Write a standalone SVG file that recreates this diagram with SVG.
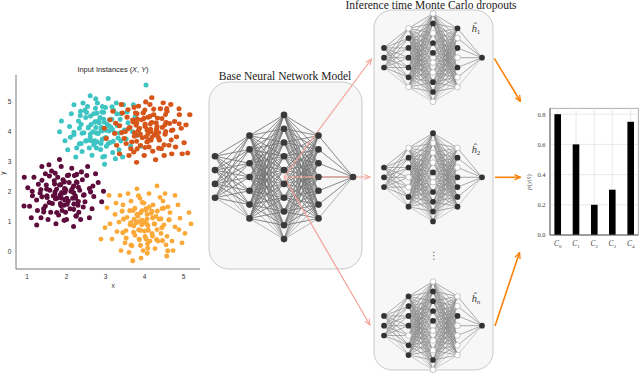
<svg xmlns="http://www.w3.org/2000/svg" width="640" height="373" viewBox="0 0 640 373">
<style>
.sans{font-family:"Liberation Sans",Arial,sans-serif}
.serif{font-family:"Liberation Serif","Times New Roman",serif}
.it{font-style:italic}
.ax{stroke:#555;stroke-width:.8;fill:none}
.tk{font-size:6.5px;fill:#333}
.dots{fill:none;stroke-linecap:round}
.e{fill:none;stroke-linejoin:round}
.bn{fill:#3a3a3a}
.d{fill:#333}
.w{fill:#fff;stroke:#a0a0a0;stroke-width:.6}
.panel{fill:#f7f7f7;stroke:#c9c9c9;stroke-width:1}
.ttl{font-size:11.5px;fill:#222}
.red{stroke:#f4a196;stroke-width:1.2;fill:none}
.org{stroke:#fa820a;stroke-width:1.6;fill:none}
.grid{stroke:#e4e4e4;stroke-width:.8}
.bl{font-size:6.5px;fill:#444}
.hl{font-size:10.5px;fill:#333}
</style>
<defs>
<marker id="ahR" viewBox="0 0 10 10" refX="9" refY="5" markerWidth="7.5" markerHeight="7.5" orient="auto" markerUnits="userSpaceOnUse"><path d="M1 1.5L9 5L1 8.5" fill="none" stroke="#f4a196" stroke-width="1.4"/></marker>
<marker id="ahO" viewBox="0 0 10 10" refX="9" refY="5" markerWidth="7.5" markerHeight="7.5" orient="auto" markerUnits="userSpaceOnUse"><path d="M1 1.5L9 5L1 8.5" fill="none" stroke="#fa820a" stroke-width="1.8"/></marker>
<path id="pA" class="dots" d="M-3 2h0M12-8h0M-18 5h0M25 10h0M5-20h0M-10-14h0M30-5h0M-28-10h0M8 18h0M-5 25h0M18 22h0M-22 18h0M0 0h0M3-4h0M-7 6h0M14 3h0M-15-3h0M22-15h0M-30 8h0M35 4h0M-2-30h0M10-28h0M-20-22h0M27-20h0M-35-2h0M40-12h0M6 9h0M-12 12h0M16-12h0M-4-9h0M1 14h0M-25 28h0M20 30h0M-8 35h0M33 18h0M-38 15h0M44 10h0M-16-32h0M9-2h0M-1 20h0M24 2h0M-26 0h0M13-20h0M-13-25h0M4 30h0M-33-18h0M30 28h0M-6-18h0M17 14h0M-19-9h0M2 8h0M-9-1h0M11 6h0M-14 22h0M28-30h0M-24-30h0M37-22h0M-40-6h0M7-12h0M-3 12h0M19-3h0M-11 3h0M15 26h0M-29 20h0M23 16h0M-17 30h0M0-15h0M34-8h0M-36 28h0M12 38h0M-4-38h0M46-2h0M-44-18h0M21-24h0"/>
<path id="pB" class="dots" d="M2-3h0M-6 4h0M9 7h0M-11-6h0M4 11h0M-3-12h0M14-2h0M-16 2h0M7-9h0M-8 13h0M17 9h0M-19-11h0M11 15h0M0-6h0M-4 7h0M6 2h0M-13 8h0M12-13h0M-7-2h0M20-8h0M-21 5h0M3 19h0M-2-20h0M15 4h0M-10 18h0M22 14h0M-24-4h0M8-17h0M-15-16h0M1 4h0M-1-1h0M10-6h0M-5-8h0M18 0h0M-17 11h0M5-24h0M-9 24h0M25-14h0M-26 14h0M13 23h0"/>
<path id="K" class="e" d="M25-30L50-45 25-30 50-35 25-30 50-25 25-30 50-15 25-30 50-5 25-30 50 5 25-30 50 15 25-30 50 25 25-30 50 35 25-30 50 45M25-20L50-45 25-20 50-35 25-20 50-25 25-20 50-15 25-20 50-5 25-20 50 5 25-20 50 15 25-20 50 25 25-20 50 35 25-20 50 45M25-10L50-45 25-10 50-35 25-10 50-25 25-10 50-15 25-10 50-5 25-10 50 5 25-10 50 15 25-10 50 25 25-10 50 35 25-10 50 45M25 0L50-45 25 0 50-35 25 0 50-25 25 0 50-15 25 0 50-5 25 0 50 5 25 0 50 15 25 0 50 25 25 0 50 35 25 0 50 45M25 10L50-45 25 10 50-35 25 10 50-25 25 10 50-15 25 10 50-5 25 10 50 5 25 10 50 15 25 10 50 25 25 10 50 35 25 10 50 45M25 20L50-45 25 20 50-35 25 20 50-25 25 20 50-15 25 20 50-5 25 20 50 5 25 20 50 15 25 20 50 25 25 20 50 35 25 20 50 45M25 30L50-45 25 30 50-35 25 30 50-25 25 30 50-15 25 30 50-5 25 30 50 5 25 30 50 15 25 30 50 25 25 30 50 35 25 30 50 45"/>
<path id="G3" class="e" d="M0-10L25-30 0-10 25-20 0-10 25-10 0-10 25 0 0-10 25 10 0-10 25 20 0-10 25 30M0 0L25-30 0 0 25-20 0 0 25-10 0 0 25 0 0 0 25 10 0 0 25 20 0 0 25 30M0 10L25-30 0 10 25-20 0 10 25-10 0 10 25 0 0 10 25 10 0 10 25 20 0 10 25 30"/>
<path id="G4" class="e" d="M0-15L25-30 0-15 25-20 0-15 25-10 0-15 25 0 0-15 25 10 0-15 25 20 0-15 25 30M0-5L25-30 0-5 25-20 0-5 25-10 0-5 25 0 0-5 25 10 0-5 25 20 0-5 25 30M0 5L25-30 0 5 25-20 0 5 25-10 0 5 25 0 0 5 25 10 0 5 25 20 0 5 25 30M0 15L25-30 0 15 25-20 0 15 25-10 0 15 25 0 0 15 25 10 0 15 25 20 0 15 25 30"/>
<path id="O" class="e" d="M100 0L75-30 100 0 75-20 100 0 75-10 100 0 75 0 100 0 75 10 100 0 75 20 100 0 75 30"/>
<g id="core"><use href="#K"/><use href="#K" transform="matrix(-1 0 0 1 100 0)"/><use href="#O"/></g>
</defs>

<!-- Scatter plot -->
<g id="scatter">
<text class="sans" x="113" y="72" font-size="7.4" fill="#222" text-anchor="middle">Input Instances (<tspan class="it">X</tspan>, <tspan class="it">Y</tspan>)</text>
<path class="ax" d="M16 75V269H200"/>
<g class="sans tk" text-anchor="middle">
<text x="9.5" y="104.3">5</text><text x="9.5" y="134.3">4</text><text x="9.5" y="164.3">3</text><text x="9.5" y="194.3">2</text><text x="9.5" y="224.3">1</text><text x="9.5" y="254.3">0</text>
<text x="27" y="279.3">1</text><text x="66.5" y="279.3">2</text><text x="105.5" y="279.3">3</text><text x="144.5" y="279.3">4</text><text x="183.5" y="279.3">5</text>
<text x="113" y="287.5">x</text>
<text transform="translate(5 173) rotate(-90)">y</text>
</g>
<g stroke="#5d0c3c" stroke-width="5">
<use href="#pA" transform="translate(63 193) scale(.88)" stroke-width="5.7"/>
<use href="#pB" transform="translate(62 194) rotate(25)"/>
<path class="dots" d="M36.7 225h0M24 206h0"/>
</g>
<g stroke="#3ec5c3" stroke-width="5">
<use href="#pA" transform="translate(101 130) rotate(180) scale(.9)" stroke-width="5.6"/>
<use href="#pB" transform="translate(100 128) rotate(110)"/>
<path class="dots" d="M146 85h0"/>
</g>
<g stroke="#d6561a" stroke-width="5">
<use href="#pA" transform="translate(148 130) scale(-.95 .85)" stroke-width="5.6"/>
<use href="#pB" transform="translate(150 128) rotate(200)"/>
<path class="dots" d="M187.7 153h0M179 108.7h0"/>
</g>
<g stroke="#fbaa3a" stroke-width="5">
<use href="#pA" transform="translate(145 222) scale(1 -.95)"/>
<use href="#pB" transform="translate(143 224) rotate(-70)"/>
<path class="dots" d="M132.7 260.7h0M167.7 250.7h0M166.7 256h0M147.7 248.3h0"/>
</g>
</g>

<!-- Base model -->
<g id="base-model">
<rect class="panel" x="209" y="82" width="153" height="187" rx="20"/>
<text class="serif ttl" x="285" y="79.5" text-anchor="middle">Base Neural Network Model</text>
<g transform="translate(215 177) scale(1.38)" stroke="#707070" stroke-width=".36">
<use href="#core"/><use href="#G4"/>
</g>
</g>

<!-- Connectors -->
<g id="connectors">
<path class="red" d="M284 177L371.5 59" marker-end="url(#ahR)"/>
<path class="red" d="M284 177L370 177" stroke="#e3918a" stroke-width="1.6" marker-end="url(#ahR)"/>
<path class="red" d="M284 177L370 325" marker-end="url(#ahR)"/>
<path class="org" d="M494.3 58.3L520.5 101.5" marker-end="url(#ahO)"/>
<path class="org" d="M495 177.3L520.5 177.3" marker-end="url(#ahO)"/>
<path class="org" d="M495 326L519.5 252.5" marker-end="url(#ahO)"/>
</g>

<g id="base-neurons" class="bn" transform="translate(215 177) scale(1.38)">
<circle cx="0" cy="-15" r="2.4"/><circle cx="0" cy="-5" r="2.4"/><circle cx="0" cy="5" r="2.4"/><circle cx="0" cy="15" r="2.4"/>
<circle cx="25" cy="-30" r="2.4"/><circle cx="25" cy="-20" r="2.4"/><circle cx="25" cy="-10" r="2.4"/><circle cx="25" cy="0" r="2.4"/><circle cx="25" cy="10" r="2.4"/><circle cx="25" cy="20" r="2.4"/><circle cx="25" cy="30" r="2.4"/>
<circle cx="50" cy="-45" r="2.4"/><circle cx="50" cy="-35" r="2.4"/><circle cx="50" cy="-25" r="2.4"/><circle cx="50" cy="-15" r="2.4"/><circle cx="50" cy="-5" r="2.4"/><circle cx="50" cy="5" r="2.4"/><circle cx="50" cy="15" r="2.4"/><circle cx="50" cy="25" r="2.4"/><circle cx="50" cy="35" r="2.4"/><circle cx="50" cy="45" r="2.4"/>
<circle cx="75" cy="-30" r="2.4"/><circle cx="75" cy="-20" r="2.4"/><circle cx="75" cy="-10" r="2.4"/><circle cx="75" cy="0" r="2.4"/><circle cx="75" cy="10" r="2.4"/><circle cx="75" cy="20" r="2.4"/><circle cx="75" cy="30" r="2.4"/>
<circle cx="100" cy="0" r="2.4"/>
</g>

<!-- MC dropout panel -->
<g id="mc-dropouts">
<rect class="panel" x="374" y="10" width="119" height="360" rx="18"/>
<text class="serif ttl" x="431" y="9" text-anchor="middle">Inference time Monte Carlo dropouts</text>

<g id="net-h1" transform="translate(384 57.7) scale(.98)">
<g stroke="#8a8a8a" stroke-width=".42"><use href="#core"/><use href="#G3"/></g>
<circle class="d" cx="0" cy="-10" r="2.9"/><circle class="d" cx="0" cy="0" r="2.9"/><circle class="d" cx="0" cy="10" r="2.9"/>
<circle class="w" cx="25" cy="-30" r="2.9"/><circle class="d" cx="25" cy="-20" r="2.9"/><circle class="d" cx="25" cy="-10" r="2.9"/><circle class="d" cx="25" cy="0" r="2.9"/><circle class="d" cx="25" cy="10" r="2.9"/><circle class="d" cx="25" cy="20" r="2.9"/><circle class="w" cx="25" cy="30" r="2.9"/>
<circle class="w" cx="50" cy="-45" r="2.9"/><circle class="d" cx="50" cy="-35" r="2.9"/><circle class="w" cx="50" cy="-25" r="2.9"/><circle class="d" cx="50" cy="-15" r="2.9"/><circle class="d" cx="50" cy="-5" r="2.9"/><circle class="w" cx="50" cy="5" r="2.9"/><circle class="w" cx="50" cy="15" r="2.9"/><circle class="d" cx="50" cy="25" r="2.9"/><circle class="d" cx="50" cy="35" r="2.9"/><circle class="w" cx="50" cy="45" r="2.9"/>
<circle class="d" cx="75" cy="-30" r="2.9"/><circle class="w" cx="75" cy="-20" r="2.9"/><circle class="d" cx="75" cy="-10" r="2.9"/><circle class="w" cx="75" cy="0" r="2.9"/><circle class="d" cx="75" cy="10" r="2.9"/><circle class="w" cx="75" cy="20" r="2.9"/><circle class="w" cx="75" cy="30" r="2.9"/>
<circle class="d" cx="100" cy="0" r="2.9"/>
</g>
<text class="serif hl" x="471.5" y="32"><tspan class="it">ĥ</tspan><tspan font-size="7" dy="1.5">1</tspan></text>

<g id="net-h2" transform="translate(384 177.3) scale(.98)">
<g stroke="#8a8a8a" stroke-width=".42"><use href="#core"/><use href="#G3"/></g>
<circle class="d" cx="0" cy="-10" r="2.9"/><circle class="d" cx="0" cy="0" r="2.9"/><circle class="d" cx="0" cy="10" r="2.9"/>
<circle class="w" cx="25" cy="-30" r="2.9"/><circle class="d" cx="25" cy="-20" r="2.9"/><circle class="d" cx="25" cy="-10" r="2.9"/><circle class="w" cx="25" cy="0" r="2.9"/><circle class="w" cx="25" cy="10" r="2.9"/><circle class="d" cx="25" cy="20" r="2.9"/><circle class="d" cx="25" cy="30" r="2.9"/>
<circle class="d" cx="50" cy="-45" r="2.9"/><circle class="w" cx="50" cy="-35" r="2.9"/><circle class="w" cx="50" cy="-25" r="2.9"/><circle class="w" cx="50" cy="-15" r="2.9"/><circle class="d" cx="50" cy="-5" r="2.9"/><circle class="w" cx="50" cy="5" r="2.9"/><circle class="d" cx="50" cy="15" r="2.9"/><circle class="d" cx="50" cy="25" r="2.9"/><circle class="d" cx="50" cy="35" r="2.9"/><circle class="d" cx="50" cy="45" r="2.9"/>
<circle class="w" cx="75" cy="-30" r="2.9"/><circle class="d" cx="75" cy="-20" r="2.9"/><circle class="w" cx="75" cy="-10" r="2.9"/><circle class="d" cx="75" cy="0" r="2.9"/><circle class="d" cx="75" cy="10" r="2.9"/><circle class="d" cx="75" cy="20" r="2.9"/><circle class="d" cx="75" cy="30" r="2.9"/>
<circle class="d" cx="100" cy="0" r="2.9"/>
</g>
<text class="serif hl" x="471.5" y="153"><tspan class="it">ĥ</tspan><tspan font-size="7" dy="1.5">2</tspan></text>

<text x="434" y="259" font-family="'DejaVu Sans',sans-serif" font-size="10" fill="#666" text-anchor="middle">⋮</text>

<g id="net-hn" transform="translate(384 325.7) scale(.98)">
<g stroke="#8a8a8a" stroke-width=".42"><use href="#core"/><use href="#G3"/></g>
<circle class="d" cx="0" cy="-10" r="2.9"/><circle class="d" cx="0" cy="0" r="2.9"/><circle class="d" cx="0" cy="10" r="2.9"/>
<circle class="d" cx="25" cy="-30" r="2.9"/><circle class="d" cx="25" cy="-20" r="2.9"/><circle class="d" cx="25" cy="-10" r="2.9"/><circle class="d" cx="25" cy="0" r="2.9"/><circle class="w" cx="25" cy="10" r="2.9"/><circle class="d" cx="25" cy="20" r="2.9"/><circle class="d" cx="25" cy="30" r="2.9"/>
<circle class="w" cx="50" cy="-45" r="2.9"/><circle class="d" cx="50" cy="-35" r="2.9"/><circle class="d" cx="50" cy="-25" r="2.9"/><circle class="d" cx="50" cy="-15" r="2.9"/><circle class="d" cx="50" cy="-5" r="2.9"/><circle class="w" cx="50" cy="5" r="2.9"/><circle class="w" cx="50" cy="15" r="2.9"/><circle class="w" cx="50" cy="25" r="2.9"/><circle class="d" cx="50" cy="35" r="2.9"/><circle class="w" cx="50" cy="45" r="2.9"/>
<circle class="w" cx="75" cy="-30" r="2.9"/><circle class="w" cx="75" cy="-20" r="2.9"/><circle class="d" cx="75" cy="-10" r="2.9"/><circle class="w" cx="75" cy="0" r="2.9"/><circle class="w" cx="75" cy="10" r="2.9"/><circle class="w" cx="75" cy="20" r="2.9"/><circle class="w" cx="75" cy="30" r="2.9"/>
<circle class="d" cx="100" cy="0" r="2.9"/>
</g>
<text class="serif hl" x="471.5" y="302"><tspan class="it">ĥ</tspan><tspan class="it" font-size="7" dy="1.5">n</tspan></text>
</g>

<!-- Bar chart -->
<g id="bar-chart">
<rect x="550" y="108.3" width="88.3" height="126.7" fill="#fff" stroke="#9a9a9a" stroke-width=".8"/>
<path class="grid" d="M550 114.2H638.3M550 144.4H638.3M550 174.6H638.3M550 204.8H638.3M557.7 108.3V235M576 108.3V235M594.3 108.3V235M612.3 108.3V235M630.7 108.3V235"/>
<g fill="#000">
<rect x="554.4" y="114.2" width="6.6" height="120.8"/>
<rect x="572.7" y="144.4" width="6.6" height="90.6"/>
<rect x="591" y="204.8" width="6.6" height="30.2"/>
<rect x="609" y="189.7" width="6.6" height="45.3"/>
<rect x="627.4" y="121.8" width="6.6" height="113.2"/>
</g>
<path d="M550 108.3V235H638.3" fill="none" stroke="#666" stroke-width="1"/>
<g class="serif bl" text-anchor="end">
<text x="545.5" y="116.5">0.8</text><text x="545.5" y="146.7">0.6</text><text x="545.5" y="176.9">0.4</text><text x="545.5" y="207.1">0.2</text><text x="545.5" y="237.3">0.0</text>
</g>
<g class="serif" font-size="7.5" fill="#444" text-anchor="middle">
<text x="557.7" y="246"><tspan class="it">C</tspan><tspan font-size="5" dy="1.5">0</tspan></text>
<text x="576" y="246"><tspan class="it">C</tspan><tspan font-size="5" dy="1.5">1</tspan></text>
<text x="594.3" y="246"><tspan class="it">C</tspan><tspan font-size="5" dy="1.5">2</tspan></text>
<text x="612.3" y="246"><tspan class="it">C</tspan><tspan font-size="5" dy="1.5">3</tspan></text>
<text x="630.7" y="246"><tspan class="it">C</tspan><tspan font-size="5" dy="1.5">4</tspan></text>
</g>
<text class="serif" transform="translate(530.5 182) rotate(-90)" font-size="7" fill="#555" text-anchor="middle"><tspan class="it">p</tspan>(<tspan class="it">y</tspan>|<tspan class="it">x̂</tspan>)</text>
</g>
</svg>
